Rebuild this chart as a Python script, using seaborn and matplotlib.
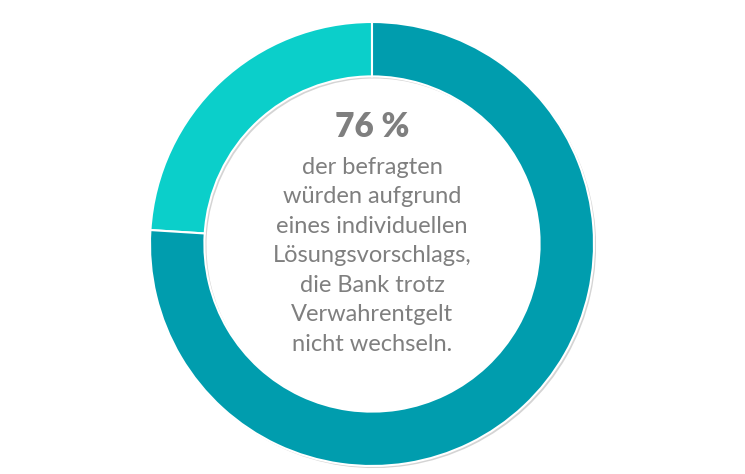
import matplotlib.pyplot as plt
import matplotlib.patheffects as pe
import seaborn as sns

sns.set_theme(style="white")
plt.rcParams['font.family'] = ['Lato', 'DejaVu Sans']

# data
labels = ["wechseln", "nicht wechseln"]
shares = [24, 76]
colors = ["#0BCFCA", "#009DAE"]
headline = "76 %"
body = ("der befragten\nwürden aufgrund\neines individuellen\n"
        "Lösungsvorschlags,\ndie Bank trotz\nVerwahrentgelt\nnicht wechseln.")

fig = plt.figure(figsize=(7.45, 4.74), dpi=100)
ax = fig.add_axes([0, 0, 1, 1])

wedges, _ = ax.pie(shares, colors=colors, startangle=90, counterclock=True,
                   radius=1, wedgeprops=dict(width=0.245, edgecolor="white", linewidth=1.5))
for w in wedges:
    w.set_path_effects([pe.SimplePatchShadow(offset=(1.5, -1.5), alpha=0.25, shadow_rgbFace="#555555"),
                        pe.Normal()])

ax.set_aspect("equal")
ax.set_xlim(-372 / 222, 373 / 222)
ax.set_ylim(-230 / 222, 244 / 222)
ax.axis("off")

ax.text(0, 0.527, headline, ha="center", va="center", fontsize=24,
        fontweight="heavy", color="#7F7F7F")
ax.text(0, -0.054, body, ha="center", va="center", fontsize=17,
        color="#7F7F7F", linespacing=1.5)

fig.savefig("out.png", dpi=100)
